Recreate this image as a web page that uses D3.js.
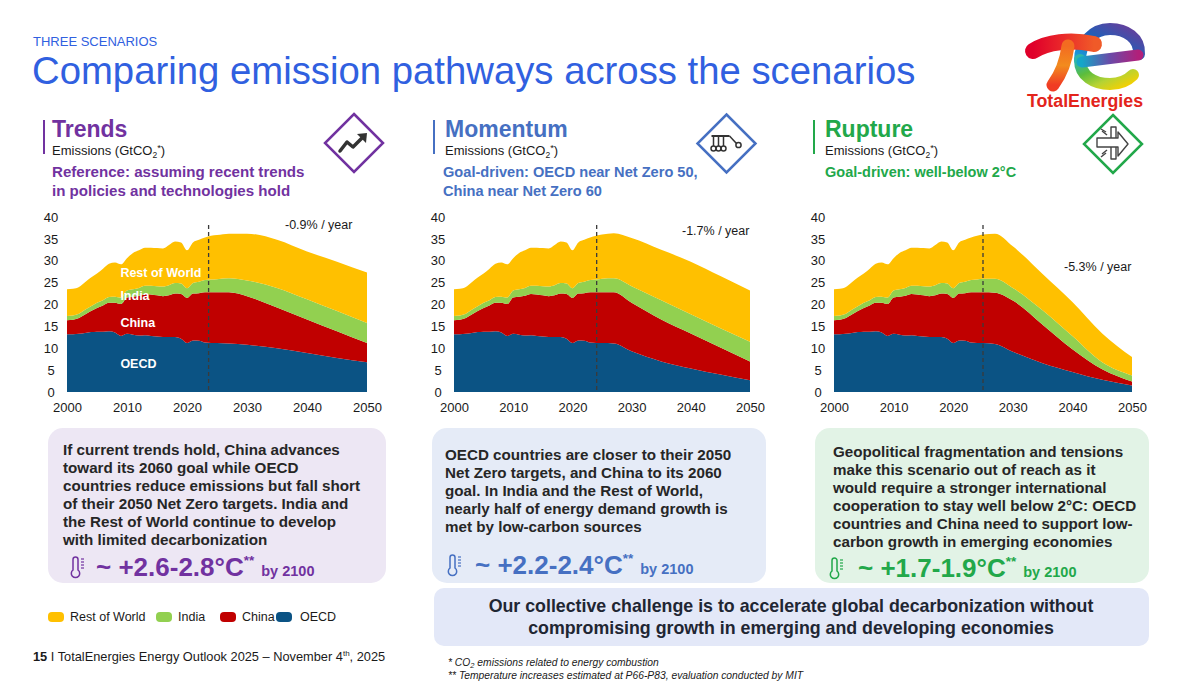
<!DOCTYPE html>
<html>
<head>
<meta charset="utf-8">
<script src="https://cdn.jsdelivr.net/npm/d3@7"></script>
<style>
  body { margin: 0; background: #fff; }
  svg { display: block; }
  text { font-family: "Liberation Sans", Arial, sans-serif; }
</style>
</head>
<body>
<div id="slide"></div>
<script>
// ---- data (GtCO2) ----
var histYears = [2000,2001,2002,2003,2004,2005,2006,2007,2008,2009,2010,2011,2012,
                 2013,2014,2015,2016,2017,2018,2019,2020,2021,2022,2023,2024];
var histOECD  = [13.2,13.2,13.3,13.5,13.7,13.8,13.8,13.9,13.6,12.8,13.3,13.1,12.9,
                 13.0,12.8,12.7,12.6,12.6,12.6,12.2,11.2,11.8,11.7,11.3,11.2];
var histChina = [3.2,3.3,3.6,4.2,4.8,5.4,6.0,6.5,6.8,7.3,8.3,8.7,9.1,
                 9.4,9.5,9.4,9.3,9.5,9.9,10.2,10.3,10.7,10.9,11.5,11.6];
var histIndia = [1.0,1.0,1.0,1.1,1.1,1.2,1.2,1.3,1.4,1.5,1.6,1.7,1.8,
                 1.9,2.0,2.1,2.2,2.3,2.4,2.4,2.2,2.4,2.6,2.8,2.9];
var histRoW   = [6.1,6.1,6.1,6.3,6.6,6.7,7.2,7.6,7.8,7.6,7.4,8.3,8.6,
                 8.7,8.7,8.7,8.7,9.2,9.5,9.4,8.7,9.3,9.6,9.7,10.0];

var projYears = [2025,2027,2030,2035,2040,2045,2050];

var trendsOECD  = [11.2,11.1,10.8,10.0,8.9,7.8,6.8];
var trendsChina = [11.6,11.7,11.1,9.3,7.7,6.1,4.4];
var trendsIndia = [3.0,3.2,3.6,4.5,4.6,4.6,4.6];
var trendsRoW   = [10.1,10.2,10.7,11.0,10.9,11.3,11.5];

var momentumOECD  = [11.2,11.1,9.3,7.0,5.4,4.0,2.7];
var momentumChina = [11.6,11.7,11.1,9.6,8.0,6.2,4.3];
var momentumIndia = [3.1,3.2,3.8,4.4,4.4,4.4,4.5];
var momentumRoW   = [10.1,10.3,11.0,11.5,12.0,11.9,11.7];

var ruptureOECD  = [11.2,11.0,9.2,6.6,4.6,2.8,1.5];
var ruptureChina = [11.6,11.7,11.7,8.8,5.2,2.4,0.9];
var ruptureIndia = [3.1,3.2,2.9,3.3,3.0,1.6,1.4];
var ruptureRoW   = [10.1,10.3,9.5,8.3,7.8,6.6,4.2];

var yTicks = [0,5,10,15,20,25,30,35,40];
var xTicks = [2000,2010,2020,2030,2040,2050];

var keys = ["OECD","China","India","RoW"];
var legendKeys = ["RoW","India","China","OECD"];
var legendNames = {RoW:"Rest of World", India:"India", China:"China", OECD:"OECD"};
var colors = {OECD:"#0b5384", China:"#c00000", India:"#92d050", RoW:"#ffc000"};

function buildRows(o, c, n, r) {
  var years = histYears.concat(projYears);
  o = histOECD.concat(o); c = histChina.concat(c);
  n = histIndia.concat(n); r = histRoW.concat(r);
  return years.map(function(yr, i) {
    return {year: yr, OECD: o[i], China: c[i], India: n[i], RoW: r[i]};
  });
}

var panels = [
  {name:"Trends", color:"#7132a0", box:"#ede7f4", x0:67, x1:367, hx:52, bar:43,
   sub:["Reference: assuming recent trends","in policies and technologies hold"], subx:52, subfs:15.1,
   rows: buildRows(trendsOECD, trendsChina, trendsIndia, trendsRoW),
   cut:2023.6, rate:"-0.9% / year", rx:285, ry:229, icon:[354,143],
   labels:[["Rest of World",26.3],["India",21.0],["China",14.9],["OECD",5.5]],
   bx:48, bw:338, tx:63, ty:455, text:["If current trends hold, China advances","toward its 2060 goal while OECD",
     "countries reduce emissions but fall short","of their 2050 Net Zero targets. India and",
     "the Rest of World continue to develop","with limited decarbonization"],
   temp:"~ +2.6-2.8°C", tempx:96, tempy:576, thx:73},
  {name:"Momentum", color:"#4670c2", box:"#e5ebf7", x0:454, x1:750, hx:445, bar:433,
   sub:["Goal-driven: OECD near Net Zero 50,","China near Net Zero 60"], subx:443, subfs:14.6,
   rows: buildRows(momentumOECD, momentumChina, momentumIndia, momentumRoW),
   cut:2024.1, rate:"-1.7% / year", rx:682, ry:235, icon:[726.5,143.5], labels:[],
   bx:432, bw:334, tx:445, ty:460, text:["OECD countries are closer to their 2050","Net Zero targets, and China to its 2060",
     "goal. In India and the Rest of World,","nearly half of energy demand growth is","met by low-carbon sources"],
   temp:"~ +2.2-2.4°C", tempx:475, tempy:574, thx:450},
  {name:"Rupture", color:"#22a84a", box:"#e2f3e6", x0:834, x1:1132, hx:825, bar:813,
   sub:["Goal-driven: well-below 2°C"], subx:825, subfs:14.5,
   rows: buildRows(ruptureOECD, ruptureChina, ruptureIndia, ruptureRoW),
   cut:2025, rate:"-5.3% / year", rx:1064, ry:271, icon:[1113,144], labels:[],
   bx:815, bw:334, tx:833, ty:457, text:["Geopolitical fragmentation and tensions","make this scenario out of reach as it",
     "would require a stronger international","cooperation to stay well below 2°C: OECD",
     "countries and China need to support low-","carbon growth in emerging economies"],
   temp:"~ +1.7-1.9°C", tempx:858, tempy:577, thx:832}
];

var W = 1200, H = 686;
var svg = d3.select("#slide").append("svg").attr("width", W).attr("height", H);
svg.append("rect").attr("width", W).attr("height", H).attr("fill", "#fff");

// ---- header ----
svg.append("text").attr("x", 33).attr("y", 46).attr("font-size", 13)
  .attr("fill", "#3060e0").text("THREE SCENARIOS");
svg.append("text").attr("x", 32).attr("y", 84).attr("font-size", 38.3)
  .attr("fill", "#3060e0").text("Comparing emission pathways across the scenarios");

// logo
var defs = svg.append("defs");
function grad(id, stops, x1, y1, x2, y2) {
  var g = defs.append("linearGradient").attr("id", id)
    .attr("x1", x1).attr("y1", y1).attr("x2", x2).attr("y2", y2);
  stops.forEach(function(s, i) {
    g.append("stop").attr("offset", i / (stops.length - 1)).attr("stop-color", s);
  });
}
grad("gTop", ["#1aa0dc","#1f5fb8","#6a3d9a"], 0, 1, 1, 0);
grad("gLow", ["#2fb6a8","#5cbd3c","#b5d334","#f6d000"], 0, 0, 1, 1);
grad("gBar", ["#14a6c8","#6a4aa8","#b1207a"], 0, 0, 1, 0);
grad("gT",   ["#e0002a","#ea2a2a","#f05a28"], 0, 0, 1, 0);
grad("gStem",["#f36b21","#f28b1e","#f03c24"], 0, 0, 0, 1);
var logo = svg.append("g").attr("fill", "none").attr("stroke-linecap", "round");
logo.append("path").attr("d", "M1080,60 C1080,44 1092,29 1110,29 C1126,29 1140,38 1139,54")
  .attr("stroke", "url(#gTop)").attr("stroke-width", 12);
logo.append("path").attr("d", "M1080,60 C1080,76 1094,84 1110,84 C1120,84 1128,80 1133,75")
  .attr("stroke", "url(#gLow)").attr("stroke-width", 12);
logo.append("path").attr("d", "M1082,62 L1138,55")
  .attr("stroke", "url(#gBar)").attr("stroke-width", 11);
logo.append("path").attr("d", "M1033,51 C1047,42 1070,39 1094,44")
  .attr("stroke", "url(#gT)").attr("stroke-width", 16);
logo.append("path").attr("d", "M1068,46 C1066,62 1061,74 1053,85")
  .attr("stroke", "url(#gStem)").attr("stroke-width", 13);
svg.append("text").attr("x", 1027).attr("y", 107).attr("font-family", "Lato, 'Liberation Sans', sans-serif")
  .attr("font-weight", 700).attr("font-size", 18).attr("fill", "#e3241b")
  .attr("textLength", 116).attr("lengthAdjust", "spacingAndGlyphs").text("TotalEnergies");

// ---- icons ----
function diamond(g, cx, cy, r, color) {
  g.append("path").attr("d", "M" + cx + "," + (cy - r) + "L" + (cx + r) + "," + cy + "L" + cx + "," + (cy + r) + "L" + (cx - r) + "," + cy + "Z")
    .attr("fill", "#fff").attr("stroke", color).attr("stroke-width", 2.5);
}
function iconTrends(g, cx, cy) {
  g.append("polyline").attr("points", [[cx-14,cy+8],[cx-7,cy-1],[cx-1,cy+4],[cx+9,cy-6]].join(" "))
    .attr("fill", "none").attr("stroke", "#333").attr("stroke-width", 3.5)
    .attr("stroke-linejoin", "round").attr("stroke-linecap", "round");
  g.append("path").attr("d", "M" + (cx+13) + "," + (cy-10) + "L" + (cx+3) + "," + (cy-9) + "L" + (cx+12) + "," + (cy) + "Z")
    .attr("fill", "#333");
}
function iconMomentum(g, cx, cy) {
  var s = g.append("g").attr("fill", "none").attr("stroke", "#333").attr("stroke-width", 1.5);
  s.append("line").attr("x1", cx-15).attr("x2", cx+3).attr("y1", cy-7.5).attr("y2", cy-7.5).attr("stroke-width", 2);
  [-13, -8, -3].forEach(function(d) {
    s.append("line").attr("x1", cx+d).attr("x2", cx+d).attr("y1", cy-7.5).attr("y2", cy+2.5);
    s.append("circle").attr("cx", cx+d).attr("cy", cy+5).attr("r", 2.5);
  });
  s.append("line").attr("x1", cx+3).attr("y1", cy-7.5).attr("x2", cx+10).attr("y2", cy);
  s.append("circle").attr("cx", cx+12).attr("cy", cy+1.5).attr("r", 2.6);
}
function iconRupture(g, cx, cy) {
  var s = g.append("g").attr("fill", "none").attr("stroke", "#444").attr("stroke-width", 1.4)
    .attr("stroke-linejoin", "round");
  s.append("path").attr("d", "M" + (cx-16) + "," + (cy-6) + "H" + (cx+5) + "V" + (cy-12) + "L" + (cx+15) + "," + cy +
    "L" + (cx+5) + "," + (cy+12) + "V" + (cy+3) + "H" + (cx-16) + "Z");
  s.append("path").attr("d", "M" + (cx-2) + "," + (cy-6) + "V" + (cy-17) + "H" + (cx+3) + "V" + (cy-6));
  s.append("path").attr("d", "M" + (cx-2) + "," + (cy+3) + "V" + (cy+15) + "H" + (cx+3) + "V" + (cy+3));
  [[-6,-9,-11,-13],[-7,-12,-12,-15],[-6,6,-11,10],[-7,9,-12,13]].forEach(function(l) {
    s.append("line").attr("x1", cx+l[0]).attr("y1", cy+l[1]).attr("x2", cx+l[2]).attr("y2", cy+l[3]);
  });
}
var iconFns = [iconTrends, iconMomentum, iconRupture];

function thermometer(g, x, yTop, color) {
  var t = g.append("g").attr("fill", "none").attr("stroke", color).attr("stroke-width", 1.5);
  t.append("path").attr("d", "M" + x + "," + (yTop + 13) + "V" + (yTop + 2.5) +
    "A2.5,2.5 0 0 1 " + (x + 5) + "," + (yTop + 2.5) + "V" + (yTop + 13) +
    "A4.2,4.2 0 1 1 " + x + "," + (yTop + 13) + "Z");
  [2, 5, 8, 11].forEach(function(d) {
    t.append("line").attr("x1", x + 8).attr("x2", x + 11).attr("y1", yTop + d).attr("y2", yTop + d).attr("stroke-width", 1.2);
  });
}

// ---- panels ----
panels.forEach(function(p, pi) {
  var g = svg.append("g");

  // heading
  g.append("rect").attr("x", p.bar).attr("y", 120).attr("width", 2).attr("height", 34).attr("fill", p.color);
  g.append("text").attr("x", p.hx).attr("y", 137).attr("font-size", 23).attr("font-weight", 700)
    .attr("fill", p.color).text(p.name);
  var em = g.append("text").attr("x", p.hx).attr("y", 155).attr("font-size", 13).attr("fill", "#1a1a1a");
  em.append("tspan").text("Emissions (GtCO");
  em.append("tspan").attr("font-size", 8.5).attr("dy", 3).text("2");
  em.append("tspan").attr("font-size", 9.5).attr("dy", -7).text("*");
  em.append("tspan").attr("dy", 4).text(")");
  p.sub.forEach(function(s, i) {
    g.append("text").attr("x", p.subx).attr("y", 177 + i * 19).attr("font-size", p.subfs).attr("font-weight", 700)
      .attr("fill", p.color).text(s);
  });
  diamond(g, p.icon[0], p.icon[1], 29, p.color);
  iconFns[pi](g, p.icon[0], p.icon[1]);

  // chart
  var x = d3.scaleLinear().domain([2000, 2050]).range([p.x0, p.x1]);
  var y = d3.scaleLinear().domain([0, 40]).range([392, 217]);
  var series = d3.stack().keys(keys)(p.rows);
  var area = d3.area().curve(d3.curveMonotoneX)
    .x(function(d) { return x(d.data.year); })
    .y0(function(d) { return y(d[0]); })
    .y1(function(d) { return y(d[1]); });
  g.append("g").selectAll("path").data(series).join("path")
    .attr("d", area).attr("fill", function(s) { return colors[s.key]; });

  g.append("line").attr("x1", x(p.cut)).attr("x2", x(p.cut)).attr("y1", y(38.2)).attr("y2", y(0))
    .attr("stroke", "#3a3a3a").attr("stroke-width", 1.3).attr("stroke-dasharray", "4,3");

  var ya = g.append("g").attr("transform", "translate(" + p.x0 + ",0)")
    .call(d3.axisLeft(y).tickValues(yTicks).tickSize(0).tickFormat(d3.format("d")));
  ya.select(".domain").remove();
  ya.selectAll("text").attr("text-anchor", "middle").attr("x", -16)
    .attr("font-family", "'Liberation Sans', Arial, sans-serif").attr("font-size", 13).attr("fill", "#1a1a1a");

  var xa = g.append("g").attr("transform", "translate(0,392)")
    .call(d3.axisBottom(x).tickValues(xTicks).tickSize(0).tickPadding(11).tickFormat(d3.format("d")));
  xa.select(".domain").remove();
  xa.selectAll("text").attr("font-family", "'Liberation Sans', Arial, sans-serif")
    .attr("font-size", 13).attr("fill", "#1a1a1a");

  g.append("text").attr("x", p.rx).attr("y", p.ry).attr("font-size", 12.5).attr("fill", "#1a1a1a").text(p.rate);

  p.labels.forEach(function(l) {
    g.append("text").attr("x", x(2008.9)).attr("y", y(l[1])).attr("font-size", 12.5)
      .attr("font-weight", 700).attr("fill", "#fff").text(l[0]);
  });

  // commentary box
  g.append("rect").attr("x", p.bx).attr("y", 428).attr("width", p.bw).attr("height", 155)
    .attr("rx", 15).attr("fill", p.box);
  p.text.forEach(function(s, i) {
    g.append("text").attr("x", p.tx).attr("y", p.ty + i * 18).attr("font-size", 15.2).attr("font-weight", 700)
      .attr("fill", "#262626").text(s);
  });
  thermometer(g, p.thx, p.tempy - 19, p.color);
  var tt = g.append("text").attr("x", p.tempx).attr("y", p.tempy).attr("font-weight", 700).attr("fill", p.color);
  tt.append("tspan").attr("font-size", 26).text(p.temp);
  tt.append("tspan").attr("font-size", 13.5).attr("dy", -11).text("**");
  tt.append("tspan").attr("font-size", 14.5).attr("dy", 11).attr("dx", 3).text(" by 2100");
});

// ---- bottom box ----
svg.append("rect").attr("x", 434).attr("y", 588).attr("width", 715).attr("height", 58)
  .attr("rx", 10).attr("fill", "#e3e8f8");
["Our collective challenge is to accelerate global decarbonization without",
 "compromising growth in emerging and developing economies"].forEach(function(s, i) {
  svg.append("text").attr("x", 791).attr("y", 612 + i * 22).attr("text-anchor", "middle")
    .attr("font-size", 17.8).attr("font-weight", 700).attr("fill", "#1f2633").text(s);
});

// ---- legend ----
var lg = svg.append("g");
var lx = [48, 156, 220, 276];
legendKeys.forEach(function(k, i) {
  lg.append("rect").attr("x", lx[i]).attr("y", 612).attr("width", 16).attr("height", 10)
    .attr("rx", 4).attr("fill", colors[k]);
  lg.append("text").attr("x", lx[i] + (k === "OECD" ? 24 : 22)).attr("y", 621).attr("font-size", 12.5)
    .attr("fill", "#1a1a1a").text(legendNames[k]);
});

// ---- footer ----
var ft = svg.append("text").attr("x", 33).attr("y", 661).attr("font-size", 12.8).attr("fill", "#1a1a1a");
ft.append("tspan").attr("font-weight", 700).text("15");
ft.append("tspan").text(" I TotalEnergies Energy Outlook 2025 \u2013 November 4");
ft.append("tspan").attr("font-size", 8).attr("dy", -5).text("th");
ft.append("tspan").attr("dy", 5).text(", 2025");

var fn1 = svg.append("text").attr("x", 448).attr("y", 666).attr("font-size", 10.3).attr("font-style", "italic").attr("fill", "#1a1a1a");
fn1.append("tspan").text("* CO");
fn1.append("tspan").attr("font-size", 7.5).attr("dy", 2).text("2");
fn1.append("tspan").attr("dy", -2).text(" emissions related to energy combustion");
svg.append("text").attr("x", 448).attr("y", 679).attr("font-size", 10.3).attr("font-style", "italic").attr("fill", "#1a1a1a")
  .text("** Temperature increases estimated at P66-P83, evaluation conducted by MIT");
</script>
</body>
</html>
